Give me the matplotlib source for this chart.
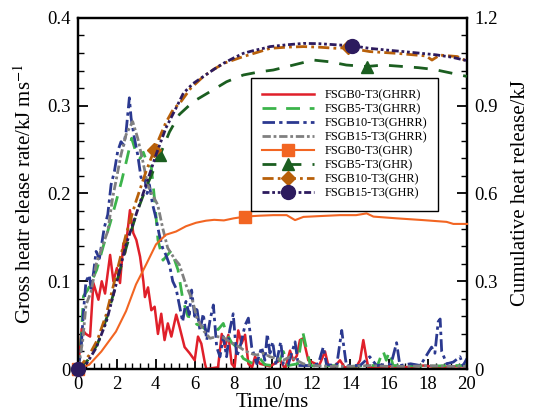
import numpy as np
import matplotlib
matplotlib.use("Agg")
import matplotlib.pyplot as plt
from matplotlib.lines import Line2D
from matplotlib.ticker import MultipleLocator, FuncFormatter

plt.rcParams['font.family'] = ['Liberation Serif', 'DejaVu Serif']
plt.rcParams['mathtext.fontset'] = 'stix'

# gross heat release rate (kJ/ms), pairs of (time ms, value)
b0_hrr = [(0, 0), (0.19, 0.046), (0.4, 0.04), (0.62, 0.037), (0.79, 0.098), (1.05, 0.079),
          (1.22, 0.1), (1.39, 0.086), (1.65, 0.13), (1.82, 0.1), (2.0, 0.115), (2.16, 0.098),
          (2.33, 0.143), (2.42, 0.132), (2.67, 0.181), (2.84, 0.155), (3.0, 0.147), (3.19, 0.128),
          (3.36, 0.1), (3.44, 0.082), (3.6, 0.093), (3.77, 0.067), (3.94, 0.071), (4.11, 0.04),
          (4.28, 0.063), (4.45, 0.033), (4.62, 0.052), (4.8, 0.037), (5.05, 0.062), (5.22, 0.048),
          (5.48, 0.025), (5.74, 0.018), (6.0, 0.01), (6.17, 0.037), (6.34, 0.029), (6.53, 0.006),
          (6.6, 0.0), (7.2, 0.002), (7.39, 0.04), (7.56, 0.025), (7.73, 0.039), (7.9, 0.006),
          (8.05, 0.002), (8.24, 0.044), (8.41, 0.029), (8.59, 0.039), (8.76, 0.006), (8.95, 0.002),
          (9.1, 0.014), (9.36, 0.006), (9.87, 0.003), (10.4, 0.01), (10.65, 0.0), (10.9, 0.021),
          (11.07, 0.01), (11.25, 0.015), (11.41, 0.033), (11.58, 0.035), (11.84, 0.01), (12.4, 0.004),
          (12.7, 0.02), (12.87, 0.004), (13.2, 0.003), (13.47, 0.01), (13.7, 0.002), (14.3, 0.002),
          (14.5, 0.01), (14.67, 0.033), (14.85, 0.01), (14.93, 0.002), (15.35, 0.002), (16.04, 0.003),
          (17.0, 0.002), (17.75, 0.004), (18.5, 0.002), (19.2, 0.003), (20, 0.003)]

b5_hrr = [(0, 0), (0.15, 0.03), (0.28, 0.083), (0.5, 0.09), (0.7, 0.1), (0.96, 0.113), (1.3, 0.14),
          (1.65, 0.166), (1.95, 0.19), (2.25, 0.215), (2.5, 0.238), (2.76, 0.263), (3.0, 0.245),
          (3.2, 0.24), (3.36, 0.247), (3.55, 0.235), (3.77, 0.23), (3.95, 0.19), (4.11, 0.147),
          (4.37, 0.124), (4.6, 0.13), (4.8, 0.135), (5.14, 0.113), (5.4, 0.078), (5.65, 0.06),
          (5.93, 0.059), (6.1, 0.051), (6.4, 0.048), (6.62, 0.044), (6.96, 0.047), (7.2, 0.045),
          (7.47, 0.052), (7.65, 0.04), (7.9, 0.03), (8.16, 0.025), (8.5, 0.012), (9.0, 0.006),
          (9.36, 0.012), (9.6, 0.005), (10.0, 0.004), (10.3, 0.006), (10.56, 0.02), (10.8, 0.004),
          (11.3, 0.006), (11.55, 0.043), (11.76, 0.022), (11.95, 0.004), (12.5, 0.003), (13, 0.004),
          (14, 0.003), (14.8, 0.004), (15.4, 0.004), (15.68, 0.021), (15.85, 0.01), (16.0, 0.02),
          (16.2, 0.004), (17, 0.004), (18, 0.003), (19, 0.004), (20, 0.004)]

b10_hrr = [(0, 0), (0.15, 0.02), (0.27, 0.062), (0.41, 0.1), (0.58, 0.107), (0.67, 0.092), (0.8, 0.11),
           (0.93, 0.134), (1.1, 0.126), (1.2, 0.14), (1.35, 0.161), (1.53, 0.176), (1.7, 0.21),
           (1.87, 0.225), (2.04, 0.248), (2.21, 0.259), (2.35, 0.255), (2.47, 0.27), (2.64, 0.309),
           (2.73, 0.286), (2.9, 0.263), (3.07, 0.244), (3.24, 0.218), (3.41, 0.221), (3.55, 0.2),
           (3.67, 0.21), (3.84, 0.187), (4.01, 0.172), (4.18, 0.153), (4.35, 0.138), (4.52, 0.13),
           (4.7, 0.119), (4.87, 0.1), (5.04, 0.092), (5.21, 0.073), (5.38, 0.054), (5.55, 0.077),
           (5.72, 0.062), (5.84, 0.09), (6.0, 0.06), (6.1, 0.071), (6.27, 0.044), (6.44, 0.063),
           (6.62, 0.033), (6.79, 0.056), (6.96, 0.073), (7.13, 0.025), (7.3, 0.014), (7.47, 0.037),
           (7.64, 0.014), (7.8, 0.044), (7.98, 0.063), (8.16, 0.014), (8.33, 0.025), (8.59, 0.05),
           (8.76, 0.058), (8.93, 0.025), (9.19, 0.006), (9.44, 0.025), (9.61, 0.01), (9.73, 0.04),
           (9.87, 0.018), (10.01, 0.031), (10.18, 0.004), (10.42, 0.031), (10.56, 0.005), (10.81, 0.005),
           (11.16, 0.031), (11.33, 0.004), (11.93, 0.004), (12.36, 0.006), (12.61, 0.025), (12.78, 0.005),
           (13.3, 0.004), (13.56, 0.044), (13.64, 0.03), (13.8, 0.004), (14.5, 0.004), (15.0, 0.014),
           (15.35, 0.004), (16.1, 0.006), (16.38, 0.03), (16.55, 0.004), (17.1, 0.006), (17.6, 0.004),
           (18.18, 0.025), (18.35, 0.018), (18.52, 0.054), (18.62, 0.057), (18.7, 0.02), (18.96, 0.006),
           (19.3, 0.008), (19.64, 0.014), (19.8, 0.004), (20, 0.012)]

b15_hrr = [(0, 0), (0.24, 0.032), (0.41, 0.073), (0.67, 0.088), (0.93, 0.119), (1.1, 0.13), (1.27, 0.141),
           (1.53, 0.157), (1.78, 0.195), (1.95, 0.214), (2.21, 0.244), (2.47, 0.267), (2.81, 0.282),
           (3.07, 0.263), (3.33, 0.237), (3.58, 0.21), (3.84, 0.198), (4.1, 0.187), (4.35, 0.161),
           (4.61, 0.138), (4.95, 0.126), (5.21, 0.119), (5.55, 0.096), (5.9, 0.077), (6.1, 0.059),
           (6.44, 0.044), (6.79, 0.035), (7.13, 0.037), (7.47, 0.036), (7.8, 0.031), (8.16, 0.027),
           (8.5, 0.022), (8.84, 0.018), (9.19, 0.016), (9.53, 0.018), (9.87, 0.014), (10.2, 0.012),
           (10.56, 0.01), (10.9, 0.014), (11.24, 0.01), (11.58, 0.006), (12.0, 0.004), (13, 0.003),
           (14, 0.003), (15, 0.004), (16, 0.003), (17, 0.003), (18, 0.004), (19, 0.003), (20, 0.003)]

# cumulative heat release (kJ)
b0_ghr = [(0, 0), (0.58, 0.015), (1.2, 0.06), (1.95, 0.128), (2.47, 0.198), (2.98, 0.289), (3.5, 0.357),
          (4.01, 0.426), (4.52, 0.459), (5.04, 0.47), (5.55, 0.488), (6.07, 0.5), (6.58, 0.507),
          (7.0, 0.51), (7.5, 0.508), (8.0, 0.515), (8.59, 0.521), (9.3, 0.524), (10.04, 0.526),
          (10.73, 0.526), (11.16, 0.509), (11.59, 0.52), (12.5, 0.523), (13.47, 0.526), (14.3, 0.526),
          (14.84, 0.532), (15.19, 0.521), (16.4, 0.515), (17.75, 0.509), (18.95, 0.503), (19.3, 0.496),
          (20, 0.496)]

b5_ghr = [(0, 0), (0.5, 0.03), (1.0, 0.085), (1.5, 0.18), (2.0, 0.3), (2.5, 0.42), (3.0, 0.53),
          (3.5, 0.62), (4.22, 0.732), (4.7, 0.81), (5.21, 0.87), (5.93, 0.914), (6.79, 0.948),
          (7.64, 0.982), (8.5, 1.005), (9.35, 1.016), (10.04, 1.022), (11.07, 1.039), (12.1, 1.056),
          (12.96, 1.05), (13.8, 1.039), (14.84, 1.034), (15.7, 1.039), (16.7, 1.034), (17.5, 1.03),
          (18.3, 1.024), (19.3, 1.01), (20, 1.0)]

b10_ghr = [(0, 0), (0.58, 0.048), (1.0, 0.1), (1.45, 0.186), (1.95, 0.32), (2.47, 0.46), (2.98, 0.573),
           (3.5, 0.676), (3.93, 0.75), (4.5, 0.84), (4.9, 0.888), (5.25, 0.91), (5.8, 0.96), (6.45, 1.0),
           (7.0, 1.025), (7.5, 1.045), (8.5, 1.068), (9.35, 1.085), (9.87, 1.096), (10.7, 1.1),
           (11.6, 1.102), (12.4, 1.1), (13.3, 1.096), (13.9, 1.1), (14.3, 1.093), (15.0, 1.085),
           (15.7, 1.082), (16.4, 1.079), (17.4, 1.073), (17.9, 1.07), (18.2, 1.056), (18.6, 1.073),
           (19.5, 1.068), (20, 1.052)]

b15_ghr = [(0, 0), (0.41, 0.015), (0.93, 0.072), (1.45, 0.16), (1.95, 0.287), (2.47, 0.425), (2.98, 0.527),
           (3.5, 0.63), (4.01, 0.732), (4.52, 0.824), (5.04, 0.892), (5.42, 0.943), (5.9, 0.975),
           (6.45, 1.0), (7.0, 1.025), (7.48, 1.045), (8.0, 1.063), (8.5, 1.079), (9.0, 1.088),
           (9.53, 1.096), (9.87, 1.102), (10.7, 1.108), (11.59, 1.113), (12.4, 1.112), (13.3, 1.108),
           (14.08, 1.105), (15.0, 1.096), (15.9, 1.09), (16.73, 1.085), (17.5, 1.08), (18.4, 1.074),
           (19.2, 1.066), (20, 1.054)]

hrr_labels = ['FSGB0-T3(GHRR)', 'FSGB5-T3(GHRR)', 'FSGB10-T3(GHRR)', 'FSGB15-T3(GHRR)']
ghr_labels = ['FSGB0-T3(GHR)', 'FSGB5-T3(GHR)', 'FSGB10-T3(GHR)', 'FSGB15-T3(GHR)']

hrr_styles = [
    dict(color='#e0202a', ls='-', lw=1.8),
    dict(color='#3cb44b', ls=(0, (5, 3.5)), lw=2.0),
    dict(color='#2b3990', ls=(0, (4.5, 1.5, 1.2, 1.5)), lw=2.0),
    dict(color='#808080', ls=(0, (3, 1, 1, 1)), lw=2.0),
]
ghr_styles = [
    dict(color='#f26522', ls='-', lw=1.5, marker='s', ms=8, mark_at=[0, 8.59]),
    dict(color='#1b5e20', ls=(0, (5, 4)), lw=2.0, marker='^', ms=8, mark_at=[4.22, 14.84]),
    dict(color='#b8600a', ls=(0, (4, 1.5, 1, 1.5)), lw=2.0, marker='D', ms=7, mark_at=[3.93, 13.9]),
    dict(color='#2d1b5e', ls=(0, (2.5, 1, 1, 1, 1, 1)), lw=2.0, marker='o', ms=10, mark_at=[0, 14.08]),
]

fig = plt.figure(figsize=(5.38, 4.17), dpi=100)
ax = fig.add_axes([0.145, 0.115, 0.723, 0.842])
ax2 = ax.twinx()

handles = []
for data, lab, st in zip([b0_hrr, b5_hrr, b10_hrr, b15_hrr], hrr_labels, hrr_styles):
    t, v = np.array(data).T
    ax.plot(t, v, color=st['color'], ls=st['ls'], lw=st['lw'])
    handles.append(Line2D([], [], color=st['color'], ls=st['ls'], lw=st['lw'], label=lab))

for data, lab, st in zip([b0_ghr, b5_ghr, b10_ghr, b15_ghr], ghr_labels, ghr_styles):
    t, v = np.array(data).T
    idx = [int(np.argmin(np.abs(t - m))) for m in st['mark_at']]
    ax2.plot(t, v, color=st['color'], ls=st['ls'], lw=st['lw'], marker=st['marker'],
             ms=st['ms'], markevery=idx, clip_on=False, zorder=3)
    handles.append(Line2D([], [], color=st['color'], ls=st['ls'], lw=st['lw'],
                          marker=st['marker'], ms=st['ms'], label=lab))

ax.set_xlim(0, 20)
ax.set_ylim(0, 0.4)
ax2.set_ylim(0, 1.2)

ax.xaxis.set_major_locator(MultipleLocator(2))
ax.xaxis.set_minor_locator(MultipleLocator(0.4))
ax.yaxis.set_major_locator(MultipleLocator(0.1))
ax.yaxis.set_minor_locator(MultipleLocator(0.02))
ax2.yaxis.set_major_locator(MultipleLocator(0.3))
ax2.yaxis.set_minor_locator(MultipleLocator(0.06))

fmt = FuncFormatter(lambda v, p: '0' if abs(v) < 1e-9 else '%g' % round(v, 2))
ax.xaxis.set_major_formatter(fmt)
ax.yaxis.set_major_formatter(fmt)
ax2.yaxis.set_major_formatter(fmt)

ax.tick_params(which='both', direction='in', top=False, right=False, labelsize=13.5, pad=5)
ax.tick_params(which='major', length=7, width=1.3)
ax.tick_params(which='minor', length=4, width=1)
ax2.tick_params(which='both', direction='in', labelsize=13.5, pad=5)
ax2.tick_params(which='major', length=7, width=1.3)
ax2.tick_params(which='minor', length=4, width=1)

for a in (ax, ax2):
    for s in a.spines.values():
        s.set_linewidth(1.6)

ax.set_xlabel('Time/ms', fontsize=15, labelpad=0)
ax.set_ylabel('Gross heatr elease rate/kJ ms$^{-1}$', fontsize=15, labelpad=8)
ax2.set_ylabel('Cumulative heat release/kJ', fontsize=15, labelpad=10)

leg = ax2.legend(handles=handles, loc='upper right', bbox_to_anchor=(0.925, 0.829),
                 borderaxespad=0, fontsize=8.8, frameon=True, fancybox=False,
                 edgecolor='black', framealpha=1, handlelength=4.3, labelspacing=0.17,
                 borderpad=0.9, handletextpad=0.8)
leg.get_frame().set_linewidth(1.0)

fig.savefig('out.png', dpi=100)
